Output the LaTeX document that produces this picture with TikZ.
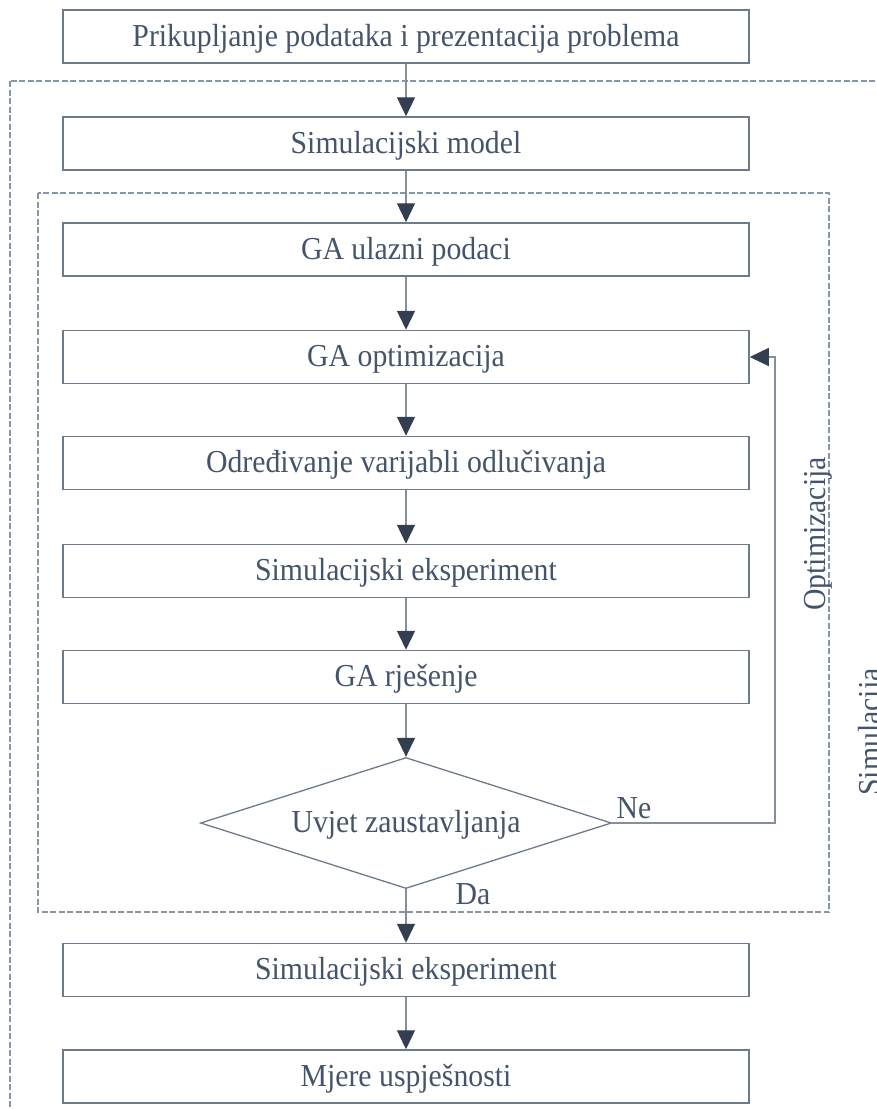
\documentclass[tikz,border=0pt]{standalone}
\usepackage{fontspec}
\setmainfont{Liberation Serif}[FakeStretch=0.93]
\usetikzlibrary{arrows.meta,shapes.geometric}
\definecolor{txt}{HTML}{44546A}
\definecolor{brd}{HTML}{6B7B8C}
\definecolor{lnc}{HTML}{858F9B}
\definecolor{arrc}{HTML}{333F50}
\definecolor{dsh}{HTML}{8496A8}
\tikzset{
  procbox/.style={draw=brd, line width=1.5pt, minimum width=686pt, minimum height=53pt, inner sep=0pt, text height=24pt, text depth=5pt, text=txt, font=\fontsize{32}{38}\selectfont},
  decbox/.style={draw=brd, line width=1.3pt, diamond, minimum width=411pt, minimum height=131pt, inner sep=0pt, aspect=3.14, text height=24pt, text depth=5pt, text=txt, font=\fontsize{32}{38}\selectfont},
  conn/.style={draw=lnc, line width=1.3pt, -{Triangle[length=19pt,width=18pt,color=arrc]}},
  grpbox/.style={draw=dsh, line width=1.2pt, dash pattern=on 6pt off 2.5pt},
  lbl/.style={text=txt, font=\fontsize{32}{38}\selectfont, inner sep=0pt}
}
\begin{document}
\begin{tikzpicture}[x=1pt,y=-1pt]
\useasboundingbox (0,0) rectangle (877,1109);
\clip (0,0) rectangle (877,1109);
% group frames
\draw[grpbox] (10,81) rectangle (905,1140);
\draw[grpbox] (38,193) rectangle (829,912);
% nodes
\node[procbox] (b1) at (406,36.5) {Prikupljanje podataka i prezentacija problema};
\node[procbox] (b2) at (406,143.5) {Simulacijski model};
\node[procbox] (b3) at (406,249.5) {GA ulazni podaci};
\node[procbox] (b4) at (406,357) {GA optimizacija};
\node[procbox] (b5) at (406,463) {Određivanje varijabli odlučivanja};
\node[procbox] (b6) at (406,571) {Simulacijski eksperiment};
\node[procbox] (b7) at (406,677) {GA rješenje};
\node[decbox] (d) at (406,823) {Uvjet zaustavljanja};
\node[procbox] (b8) at (406,970) {Simulacijski eksperiment};
\node[procbox] (b9) at (406,1076.5) {Mjere uspješnosti};
% labels
\node[lbl] (ne) at (634,808) {Ne};
\node[lbl] (da) at (473,894) {Da};
\node[lbl, rotate=90, anchor=base] (opt) at (825,534) {Optimizacija};
\node[lbl, rotate=90, anchor=base] (sim) at (880,732) {Simulacija};
% connectors
\coordinate (fb) at (775,823);
\draw[conn] (b1) -- (b2);
\draw[conn] (b2) -- (b3);
\draw[conn] (b3) -- (b4);
\draw[conn] (b4) -- (b5);
\draw[conn] (b5) -- (b6);
\draw[conn] (b6) -- (b7);
\draw[conn] (b7) -- (d);
\draw[conn] (d) -- (b8);
\draw[conn] (b8) -- (b9);
\draw[conn] (d.east) -- (fb) |- (b4.east);
\end{tikzpicture}
\end{document}
